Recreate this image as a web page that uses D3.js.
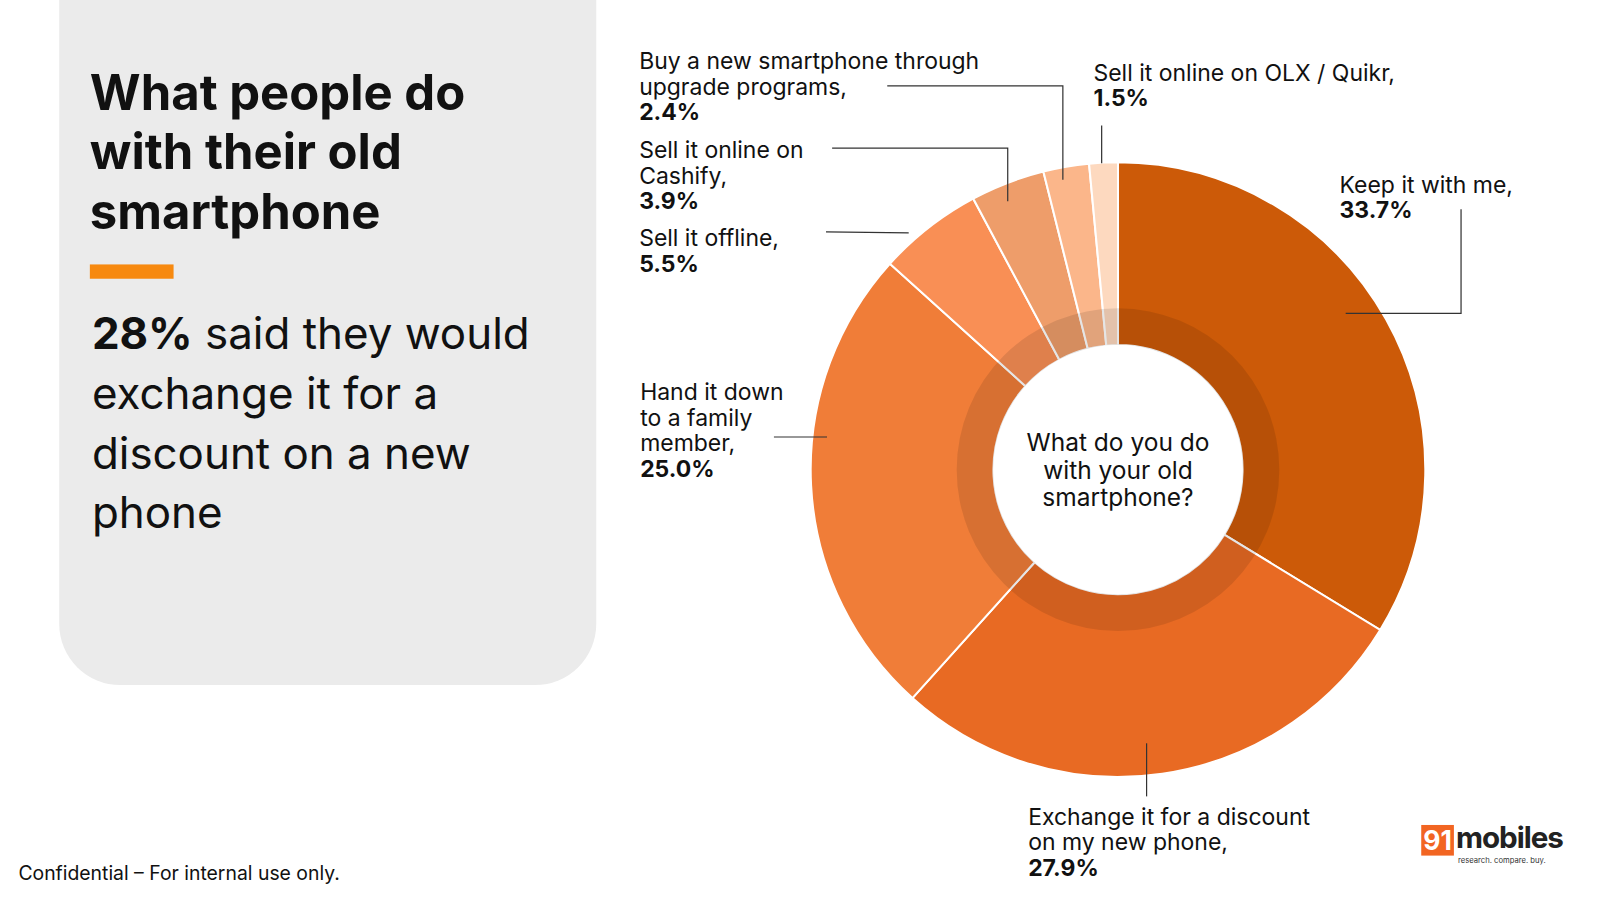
<!DOCTYPE html>
<html><head><meta charset="utf-8">
<script src="https://cdn.jsdelivr.net/npm/d3@7"></script>
<style>body{margin:0;background:#fff;font-family:Inter,"Noto Sans",sans-serif}</style>
</head><body><svg id="c" width="1600" height="900"></svg>
<script>
const categories=["Keep it with me,","Exchange it for a discount on my new phone,","Hand it down to a family member,","Sell it offline,","Sell it online on Cashify,","Buy a new smartphone through upgrade programs,","Sell it online on OLX / Quikr,"];
const values=[33.7,27.9,25.0,5.5,3.9,2.4,1.5];
const valueLabels=["33.7%","27.9%","25.0%","5.5%","3.9%","2.4%","1.5%"];
const colors=["#cc5a08","#e86a23","#f07d38","#f98f55","#ee9d6a","#fbb68a","#fdd9bf"];
const labelLines=[["Keep it with me,"],["Exchange it for a discount","on my new phone,"],["Hand it down","to a family","member,"],["Sell it offline,"],["Sell it online on","Cashify,"],["Buy a new smartphone through","upgrade programs,"],["Sell it online on OLX / Quikr,"]];
const layout=[
 {x:1312,y:189,line:[[1318,307],[1431,307],[1431,205]]},
 {x:1007,y:808,line:[[1123,728],[1123,780]]},
 {x:627,y:392,line:[[810,428],[758,428]]},
 {x:626,y:241,line:[[890,228],[809,227]]},
 {x:626,y:155,line:[[987,197],[987,145],[815,145]]},
 {x:626,y:68,line:[[1041,176],[1041,84],[869,84]]},
 {x:1071,y:79,line:[[1079,160],[1079,123]]}];
const svg=d3.select("#c").append("g").attr("transform","scale(1.021)");
svg.append("path").attr("d","M58,0 H584 V611 A60,60 0 0 1 524,671 H118 A60,60 0 0 1 58,611 Z").attr("fill","#ebebeb");
const t=svg.append("text").attr("x",88).attr("font-size",48).attr("font-weight",700).attr("fill","#111");
["What people do","with their old","smartphone"].forEach((s,i)=>t.append("tspan").attr("x",88).attr("y",108+i*58).text(s));
svg.append("rect").attr("x",88).attr("y",259).attr("width",82).attr("height",14).attr("fill","#f7890f");
const s=svg.append("text").attr("font-size",43).attr("fill","#111");
s.append("tspan").attr("x",90).attr("y",342).attr("font-weight",700).text("28%");
s.append("tspan").text(" said they would");
["exchange it for a","discount on a new","phone"].forEach((l,i)=>s.append("tspan").attr("x",90).attr("y",401+i*58).text(l));
svg.append("text").attr("x",18).attr("y",862).attr("font-size",19).attr("fill","#111").text("Confidential – For internal use only.");
const cx=1095,cy=460,R=301,r0=122;
const pie=d3.pie().sort(null).value(d=>d)(values);
const g=svg.append("g").attr("transform",`translate(${cx},${cy})`);
g.selectAll("path.s").data(pie).join("path").attr("class","s").attr("d",d3.arc().innerRadius(r0).outerRadius(R))
 .attr("fill",(d,i)=>colors[i]).attr("stroke","#fff").attr("stroke-width",2);
g.append("path").attr("d",d3.arc().innerRadius(r0).outerRadius(158).startAngle(0).endAngle(2*Math.PI)()).attr("fill","rgba(0,0,0,0.1)");
g.append("circle").attr("r",r0).attr("fill","#fff");
const ct=g.append("text").attr("text-anchor","middle").attr("font-size",24).attr("fill","#111");
["What do you do","with your old","smartphone?"].forEach((l,i)=>ct.append("tspan").attr("x",0).attr("y",-18+i*27).text(l));
layout.forEach((L,i)=>{
 svg.append("polyline").attr("points",L.line.map(p=>p.join(",")).join(" ")).attr("fill","none").attr("stroke","#333").attr("stroke-width",1.2);
 const tx=svg.append("text").attr("font-size",22.5).attr("fill","#111");
 labelLines[i].forEach((l,j)=>tx.append("tspan").attr("x",L.x).attr("y",L.y+j*25).text(l));
 tx.append("tspan").attr("x",L.x).attr("y",L.y+labelLines[i].length*25).attr("font-weight",700).text(valueLabels[i]);
});
svg.append("rect").attr("x",1392).attr("y",808).attr("width",32).attr("height",30).attr("fill","#f26522");
svg.append("text").attr("x",1408).attr("y",833).attr("text-anchor","middle").attr("font-size",26).attr("font-weight",700).attr("fill","#fff").text("91");
svg.append("text").attr("x",1426).attr("y",831).attr("font-size",29).attr("font-weight",700).attr("fill","#222").attr("letter-spacing",-1).text("mobiles");
svg.append("text").attr("x",1428).attr("y",845).attr("font-size",7.5).attr("fill","#333").text("research. compare. buy.");
</script></body></html>
